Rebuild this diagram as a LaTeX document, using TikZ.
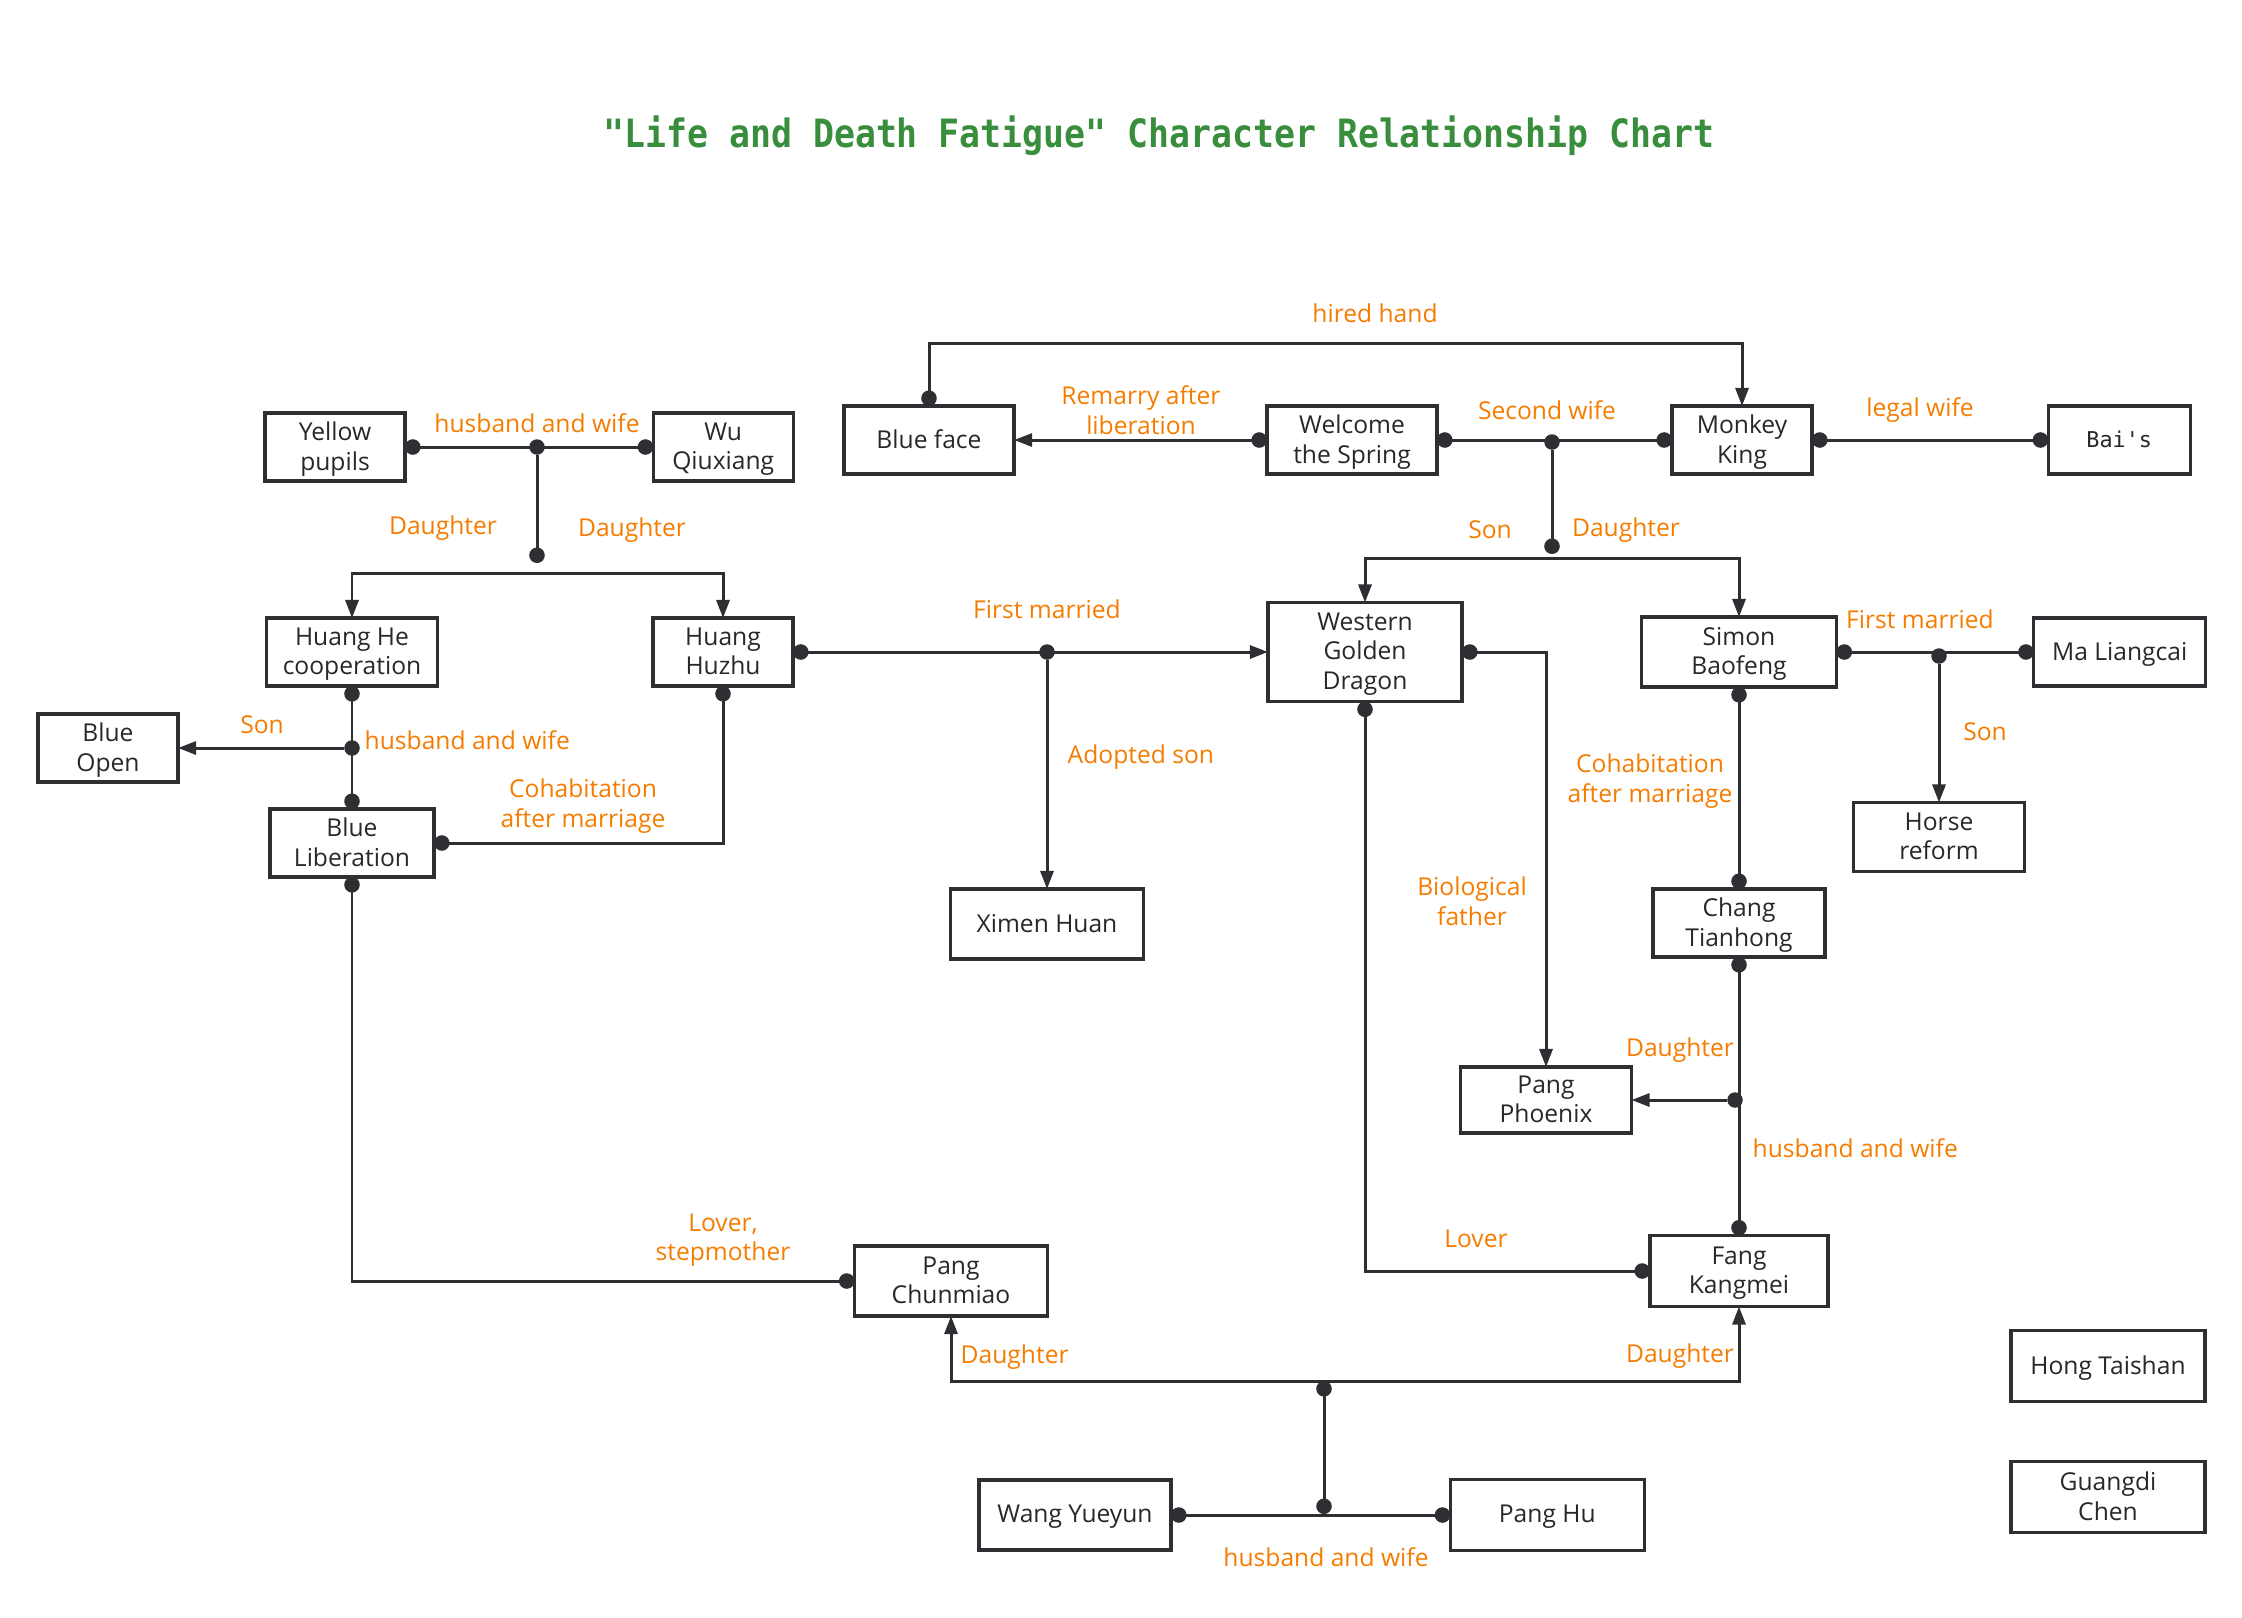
\documentclass[tikz,border=0pt]{standalone}
\usepackage{fontspec}
\setmainfont{Open Sans}
\newfontfamily\titlefont{DejaVu Sans Mono}
\usetikzlibrary{arrows.meta, positioning}
\definecolor{linegray}{RGB}{45,47,51}
\definecolor{textgray}{RGB}{40,40,40}
\definecolor{relorange}{RGB}{245,124,0}
\definecolor{titlegreen}{RGB}{56,142,60}

\begin{document}
\begin{tikzpicture}[
    x=0.01cm, y=-0.01cm,
    person/.style={rectangle, draw=linegray, line width=0.95pt, fill=white, text=textgray, align=center, inner sep=0pt, outer sep=0pt, minimum width=1.4cm, minimum height=0.68cm, text depth=0.5pt, font=\fontsize{7}{8.4}\selectfont},
    rel/.style={text=relorange, align=center, inner sep=0pt, font=\fontsize{7}{8.4}\selectfont},
    link/.style={draw=linegray, line width=0.85pt},
    dotlink/.style={link, {Circle[length=1.55mm]}-{Circle[length=1.55mm]}},
    arrow/.style={link, -{Triangle[length=1.8mm, width=1.3mm]}},
    darrow/.style={link, {Circle[length=1.55mm]}-{Triangle[length=1.8mm, width=1.3mm]}},
    splitarrow/.style={link, {Triangle[length=1.8mm, width=1.3mm]}-{Triangle[length=1.8mm, width=1.3mm]}},
    jlink/.style={link, -{Circle[length=1.55mm]}},
    jdot/.style={circle, fill=linegray, inner sep=0pt, minimum size=1.55mm},
]
    \useasboundingbox (0,0) rectangle (2242,1617);

    % Title
    \node[anchor=base, text=titlegreen, yscale=1.12, font=\titlefont\bfseries\fontsize{9.9}{12}\selectfont] (title) at (1159,147) {"Life and Death Fatigue" Character Relationship Chart};

    % Top row
    \node[person] (yellow) at (335,447) {Yellow\\pupils};
    \node[person, right=2.48cm of yellow] (wu) {Wu\\Qiuxiang};
    \node[person, minimum width=1.7cm] (blueface) at (929,440) {Blue face};
    \node[person, minimum width=1.7cm] (welcome) at (1352,440) {Welcome\\the Spring};
    \node[person] (monkey) at (1742,440) {Monkey\\King};
    \node[person, minimum width=1.42cm, right=2.36cm of monkey, font=\titlefont\fontsize{6.2}{8}\selectfont] (bais) {Bai's};

    % Second row
    \node[person, minimum width=1.71cm] (huanghe) at (352,652) {Huang He\\cooperation};
    \node[person] (huzhu) at (723,652) {Huang\\Huzhu};
    \node[person, minimum width=1.94cm, minimum height=0.99cm] (wgd) at (1365,652) {Western\\Golden\\Dragon};
    \node[person, minimum width=1.95cm, minimum height=0.70cm] (simon) at (1739,652) {Simon\\Baofeng};
    \node[person, minimum width=1.72cm, right=1.97cm of simon] (ma) {Ma Liangcai};

    % Third row
    \node[person] (blueopen) at (108,748) {Blue\\Open};
    \node[person, minimum width=1.64cm] (blueliberation) at (352,843) {Blue\\Liberation};
    \node[person, minimum width=1.71cm, minimum height=0.69cm] (horse) at (1939,837) {Horse\\reform};
    \node[person, minimum width=1.93cm, minimum height=0.70cm] (ximen) at (1047,924) {Ximen Huan};
    \node[person, minimum width=1.72cm] (chang) at (1739,923) {Chang\\Tianhong};

    % Lower rows
    \node[person, minimum width=1.71cm, minimum height=0.66cm] (phoenix) at (1546,1100) {Pang\\Phoenix};
    \node[person, minimum width=1.78cm, minimum height=0.71cm] (fang) at (1739,1271) {Fang\\Kangmei};
    \node[person, minimum width=1.93cm, minimum height=0.70cm] (chunmiao) at (951,1281) {Pang\\Chunmiao};
    \node[person, minimum width=1.92cm, minimum height=0.70cm] (wang) at (1075,1515) {Wang Yueyun};
    \node[person, minimum width=1.94cm, minimum height=0.71cm, right=2.79cm of wang] (panghu) {Pang Hu};
    \node[person, minimum width=1.94cm, minimum height=0.71cm] (hong) at (2108,1366) {Hong Taishan};
    \node[person, minimum width=1.94cm, minimum height=0.71cm, below=0.6cm of hong] (guangdi) {Guangdi\\Chen};

    % Free ends of the split lines
    \coordinate (ywend) at (537,563);
    \coordinate (ywsplit) at (537,573);
    \coordinate (hired) at (1336,343);
    \coordinate (wmend) at (1552,554);
    \coordinate (wmsplit) at (1552,558);
    \coordinate (wpbot) at (1324,1514);
    \coordinate (wptop) at (1324,1381);

    % Couples and relations
    \draw[dotlink] (yellow) -- (wu);
    \draw[darrow] (blueface.north) |- (hired) -| (monkey.north);
    \draw[darrow] (welcome) -- (blueface);
    \draw[dotlink] (welcome) -- (monkey);
    \draw[dotlink] (monkey) -- (bais);
    \draw[darrow] (huzhu) -- (wgd);
    \draw[dotlink] (huanghe) -- (blueliberation);
    \draw[dotlink] (huzhu.south) |- (blueliberation.east);
    \draw[dotlink] (blueliberation.south) |- (chunmiao.west);
    \draw[darrow] (wgd.east) -| (phoenix.north);
    \draw[dotlink] (wgd.south) |- (fang.west);
    \draw[dotlink] (simon) -- (ma);
    \draw[dotlink] (simon) -- (chang);
    \draw[dotlink] (chang) -- (fang);
    \draw[dotlink] (wang) -- (panghu);

    % Junctions
    \node[jdot] (jyw) at (537,447) {};
    \node[jdot] (jwm) at (1552,442) {};
    \node[jdot] (jhw) at (1047,652) {};
    \node[jdot] (jhh) at (352,748) {};
    \node[jdot] (jsm) at (1939,656) {};
    \node[jdot] (jcf) at (1735,1100) {};

    % Children
    \draw[jlink] (jyw) -- (ywend);
    \draw[splitarrow] (huanghe.north) |- (ywsplit) -| (huzhu.north);
    \draw[jlink] (jwm) -- (wmend);
    \draw[splitarrow] (wgd.north) |- (wmsplit) -| (simon.north);
    \draw[arrow] (jhw) -- (jhw |- ximen.north);
    \draw[arrow] (jhh) -- (jhh -| blueopen.east);
    \draw[arrow] (jsm) -- (jsm |- horse.north);
    \draw[arrow] (jcf) -- (jcf -| phoenix.east);
    \draw[dotlink] (wpbot) -- (wptop);
    \draw[splitarrow] (chunmiao.south) |- (wptop) -| (fang.south);

    % Relation labels
    \node[rel] (lblyw) at (537,423) {husband and wife};
    \node[rel] (lbldl) at (443,528) {Daughter};
    \node[rel] (lbldr) at (632,530) {Daughter};
    \node[rel] (lblhired) at (1375,313) {hired hand};
    \node[rel] (lblremarry) at (1141,410) {Remarry after\\liberation};
    \node[rel] (lblsecond) at (1547,410) {Second wife};
    \node[rel] (lbllegal) at (1920,410) {legal wife};
    \node[rel] (lblson) at (1490,530) {Son};
    \node[rel] (lbldaughter) at (1626,530) {Daughter};
    \node[rel] (lblfirst) at (1047,609) {First married};
    \node[rel] (lblfirstsm) at (1920,619) {First married};
    \node[rel] (lblsonopen) at (262,725) {Son};
    \node[rel, anchor=west] (lblhh) at (364,740) {husband and wife};
    \node[rel] (lblcohab) at (583,806) {Cohabitation\\after marriage};
    \node[rel, anchor=west] (lbladopted) at (1067,757) {Adopted son};
    \node[rel] (lblbio) at (1472,901) {Biological\\father};
    \node[rel] (lblcohabsc) at (1650,781) {Cohabitation\\after marriage};
    \node[rel] (lblsonhorse) at (1985,732) {Son};
    \node[rel] (lbldphoenix) at (1680,1050) {Daughter};
    \node[rel, anchor=west] (lblcf) at (1752,1148) {husband and wife};
    \node[rel] (lbllover) at (1476,1239) {Lover};
    \node[rel] (lblstep) at (723,1240) {Lover,\\stepmother};
    \node[rel, anchor=west] (lbldchun) at (960,1357) {Daughter};
    \node[rel] (lbldfang) at (1680,1356) {Daughter};
    \node[rel] (lblwp) at (1326,1557) {husband and wife};
\end{tikzpicture}
\end{document}
